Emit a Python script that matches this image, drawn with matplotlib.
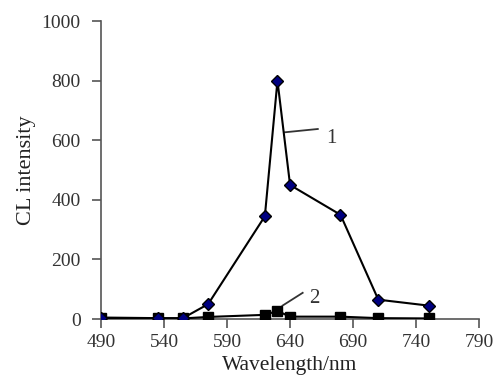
import matplotlib
matplotlib.use("Agg")
import matplotlib.pyplot as plt

wavelength = [490, 535, 555, 575, 620, 630, 640, 680, 710, 750]
series1 = [5, 3, 3, 50, 345, 800, 450, 350, 65, 45]
series2 = [3, 2, 2, 7, 14, 27, 8, 8, 3, 2]
xticks = [490, 540, 590, 640, 690, 740, 790]
yticks = [0, 200, 400, 600, 800, 1000]

plt.rcParams['font.family'] = ['Liberation Serif', 'DejaVu Serif']

fig = plt.figure(figsize=(4.95, 3.78), dpi=100)
ax = fig.add_axes([0.204, 0.156, 0.764, 0.788])

ax.plot(wavelength, series2, color='black', lw=1.5, marker='s', ms=7,
        mfc='black', mec='black', zorder=3)
ax.plot(wavelength, series1, color='black', lw=1.5, marker='D', ms=6,
        mfc='#000080', mec='black', mew=1, zorder=4)

ax.set_xlim(490, 790)
ax.set_ylim(0, 1000)
ax.set_xticks(xticks)
ax.set_yticks(yticks)
for s in ['top', 'right']:
    ax.spines[s].set_visible(False)
for s in ['left', 'bottom']:
    ax.spines[s].set_color('#555555')
    ax.spines[s].set_linewidth(1.2)
ax.spines['left'].set_bounds(0, 1000)
ax.tick_params(direction='out', length=6.5, width=1.2, color='#555555',
               labelsize=14, labelcolor='#333333')
ax.tick_params(axis='y', pad=8)
ax.tick_params(axis='x', pad=4)
ax.set_xlabel('Wavelength/nm', fontsize=15.5, color='#222222', labelpad=4)
ax.set_ylabel('CL intensity', fontsize=16, color='#222222', labelpad=4)

# annotation leaders
ax.plot([636, 662], [627, 638], color='#333333', lw=1.3, clip_on=False)
ax.text(669, 590, '1', fontsize=15, color='#333333')
ax.plot([634, 650], [45, 88], color='#333333', lw=1.3, clip_on=False)
ax.text(655, 55, '2', fontsize=15, color='#333333')

fig.savefig('out.png', dpi=100)
